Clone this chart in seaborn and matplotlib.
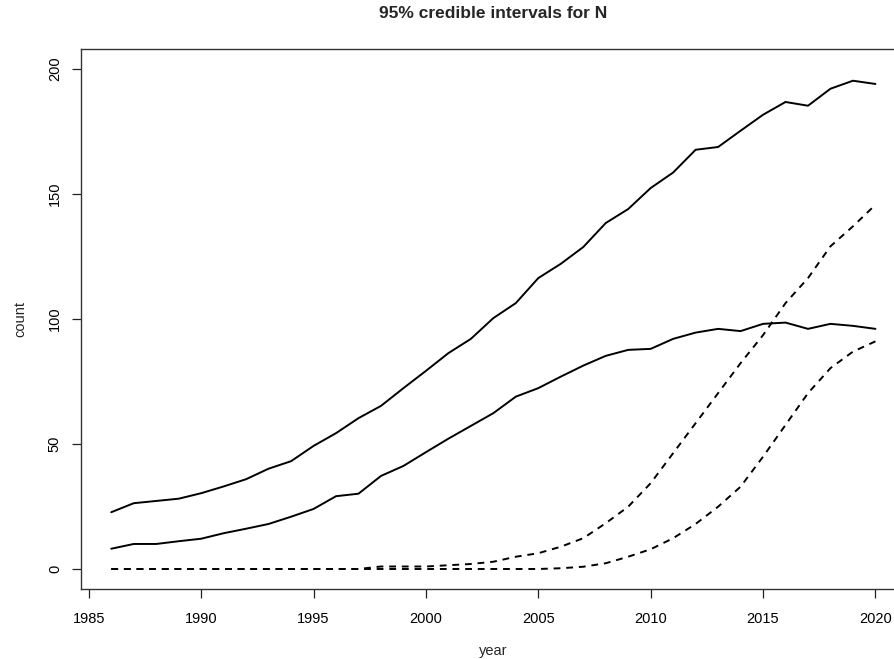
import matplotlib
matplotlib.use("Agg")
import matplotlib.pyplot as plt
import numpy as np
import pandas as pd
import seaborn as sns

years = list(range(1986, 2021))

# solid lines (upper pair)
upper_hi = [22.7, 26.3, 27.2, 28.1, 30.3, 33.0, 35.9, 40.1, 43.1, 49.2,
            54.3, 60.3, 65.2, 72.3, 79.2, 86.3, 92.0, 100.3, 106.3, 116.3,
            122.0, 128.7, 138.3, 143.9, 152.3, 158.5, 167.6, 168.7, 175.2, 181.6,
            186.7, 185.2, 192.0, 195.2, 193.9]
upper_lo = [8.1, 10.0, 10.0, 11.1, 12.1, 14.3, 16.1, 18.0, 20.9, 24.0,
            29.1, 30.1, 37.2, 41.2, 46.7, 52.1, 57.2, 62.3, 68.9, 72.3,
            76.9, 81.3, 85.2, 87.6, 88.0, 92.0, 94.5, 96.0, 95.1, 98.0,
            98.5, 96.0, 98.0, 97.2, 96.0]

# dashed lines (lower pair)
lower_hi = [0, 0, 0, 0, 0, 0, 0, 0, 0, 0,
            0, 0, 1.0, 1.0, 1.0, 1.5, 2.0, 2.9, 4.9, 6.3,
            8.9, 12.3, 18.3, 24.9, 34.3, 46.3, 58.3, 70.3, 82.3, 93.5,
            106.3, 116.3, 129.0, 137.0, 145.6]
lower_lo = [0, 0, 0, 0, 0, 0, 0, 0, 0, 0,
            0, 0, 0, 0, 0, 0, 0, 0, 0, 0,
            0.3, 0.9, 2.3, 4.9, 7.9, 12.3, 18.0, 24.9, 32.9, 44.9,
            57.6, 70.3, 80.3, 86.9, 91.0]

x_ticks = [1985, 1990, 1995, 2000, 2005, 2010, 2015, 2020]
y_ticks = [0, 50, 100, 150, 200]

sns.set_style("ticks")
plt.rcParams["font.family"] = ["Liberation Sans", "DejaVu Sans"]

fig = plt.figure(figsize=(8.95, 6.59), dpi=100)
W, H = 895, 659
left, right, top, bottom = 80.7, 906.0, 48.7, 589.0
ax = fig.add_axes([left / W, 1 - bottom / H, (right - left) / W, (bottom - top) / H])

df = pd.DataFrame({"year": years, "upper_hi": upper_hi, "upper_lo": upper_lo,
                   "lower_hi": lower_hi, "lower_lo": lower_lo})

for col in ["upper_hi", "upper_lo"]:
    sns.lineplot(data=df, x="year", y=col, ax=ax, color="black", linewidth=1.4)
for col in ["lower_hi", "lower_lo"]:
    sns.lineplot(data=df, x="year", y=col, ax=ax, color="black", linewidth=1.4,
                 dashes=False, linestyle=(0, (3.5, 3)))

span = years[-1] - years[0]
ax.set_xlim(years[0] - 0.04 * span, years[-1] + 0.04 * span)
ax.set_ylim(-8, 208)
ax.set_xticks(x_ticks)
ax.set_yticks(y_ticks)
ax.set_xticklabels([str(v) for v in x_ticks])
ax.set_yticklabels([str(v) for v in y_ticks])
plt.setp(ax.get_yticklabels(), rotation=90, va="center")

ax.tick_params(axis="both", length=6.5, width=0.9, colors="#222222", labelsize=10.5,
               labelcolor="black")
ax.tick_params(axis="x", pad=10)
ax.tick_params(axis="y", pad=7)
for s in ax.spines.values():
    s.set_visible(True)
    s.set_color("#333333")
    s.set_linewidth(1.0)

ax.set_xlabel("year", fontsize=10.5)
ax.set_ylabel("count", fontsize=10.5)
ax.xaxis.set_label_coords(493 / W, 1 - 651 / H, transform=fig.transFigure)
ax.yaxis.set_label_coords(20 / W, 1 - 319 / H, transform=fig.transFigure)
ax.xaxis.label.set_va("center")
ax.yaxis.label.set_va("center")

fig.text(493 / W, 1 - 14 / H, "95% credible intervals for N", ha="center", va="center",
         fontsize=12.5, fontweight="bold")

fig.savefig("out.png", dpi=100)
